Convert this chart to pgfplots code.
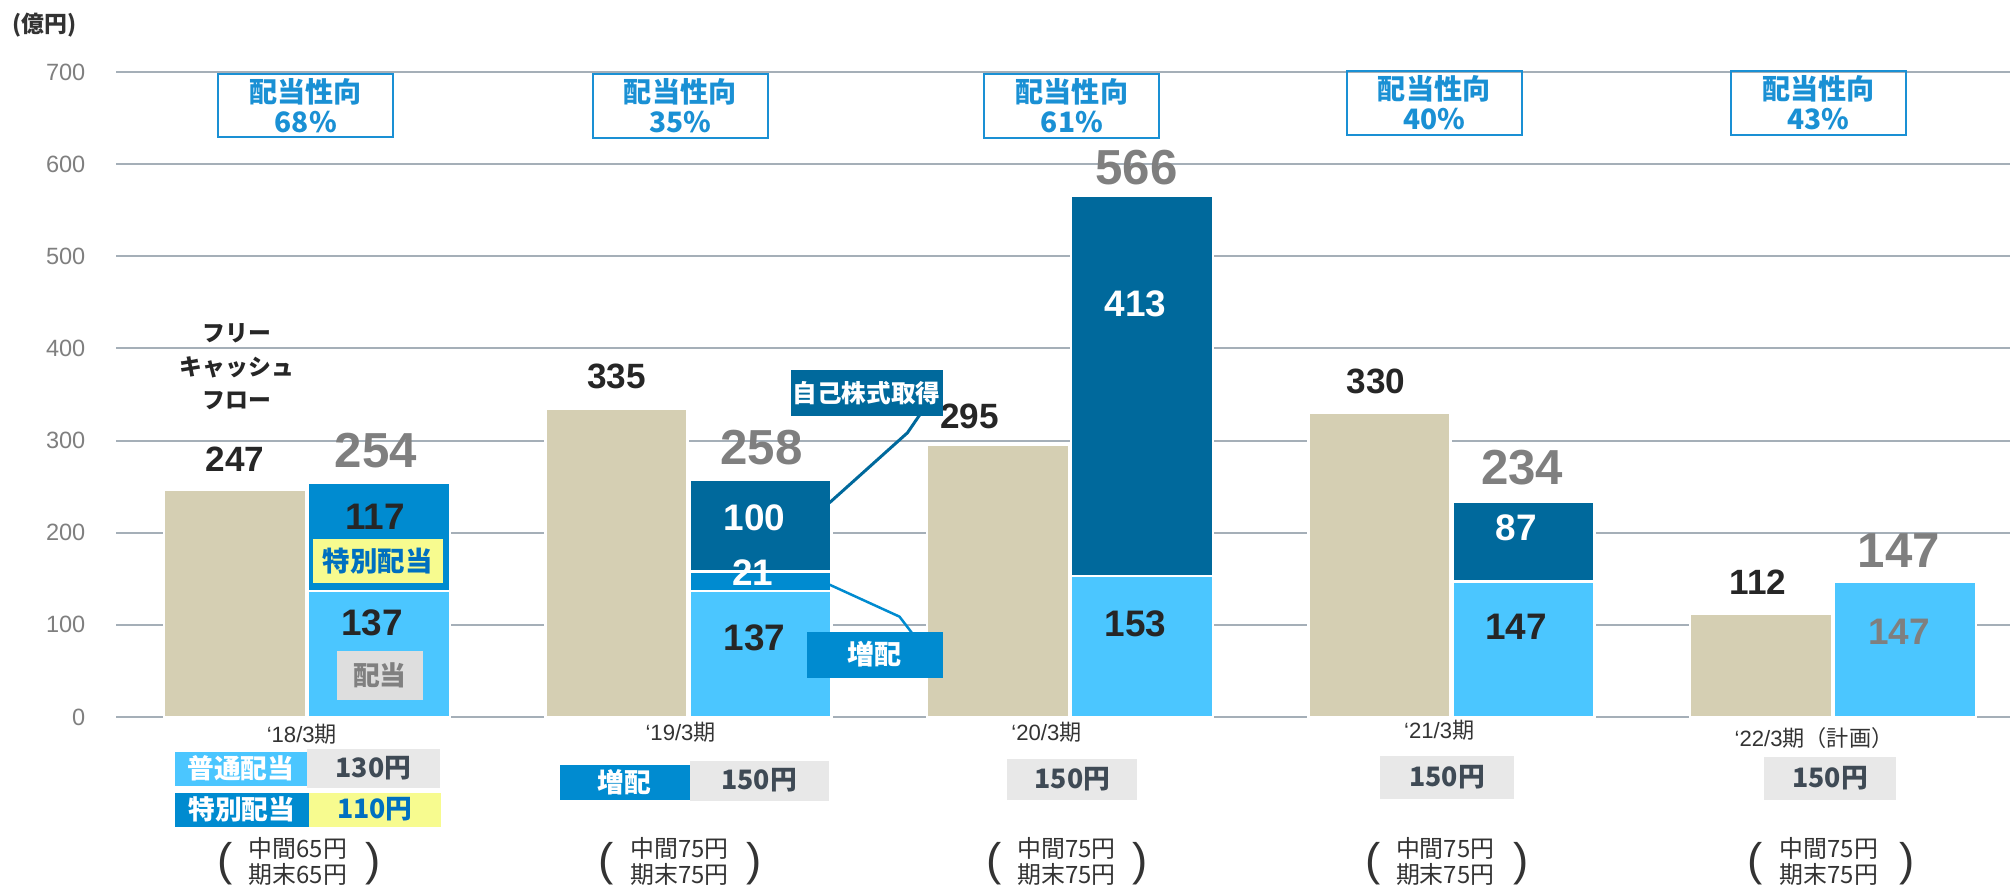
\documentclass[border=0pt]{standalone}
\usepackage{fontspec}
\setmainfont{Liberation Sans}
\newfontfamily\jp{Noto Sans CJK JP}
\usepackage{pgfplots}
\pgfplotsset{compat=1.18}
\definecolor{fcf}{HTML}{D5CFB3}
\definecolor{lblue}{HTML}{4BC6FF}
\definecolor{mblue}{HTML}{008BD0}
\definecolor{dblue}{HTML}{00699C}
\definecolor{gridc}{HTML}{A5AFB8}
\definecolor{pblue}{HTML}{1A90D4}
\definecolor{yel}{HTML}{F7FB8F}
\definecolor{gbox}{HTML}{E8E8E8}
\definecolor{gbox2}{HTML}{DEDEDE}
\definecolor{slate}{HTML}{3F4A55}
\definecolor{tblue}{HTML}{0070C0}
\definecolor{dark}{HTML}{262626}
\definecolor{tgray}{HTML}{7F7F7F}
\definecolor{txt}{HTML}{333333}
\newcommand\fs[1]{\fontsize{#1}{#1}\selectfont}
\begin{document}
\begin{tikzpicture}
\useasboundingbox (0,0) rectangle (20.1,8.86);
\begin{axis}[at={(1.16cm,1.69cm)}, anchor=south west, scale only axis,
  width=18.94cm, height=6.45cm, xmin=-0.5, xmax=4.4646, ymin=0, ymax=700,
  axis line style={draw=none}, ymajorgrids, grid style={draw=gridc, line width=0.02cm},
  xtick=\empty, ytick={0,100,...,700}, tick style={draw=none}, major tick length=0pt,
  yticklabel style={font=\fs{6.7}, text=tgray, inner sep=0pt, xshift=-0.3cm},
  /pgf/number format/assume math mode=true,
  ybar, bar width=1.42cm]
\addplot[bar shift=-0.72cm, fill=fcf, draw=white, line width=0.025cm]
  coordinates {(0,247) (1,335) (2,295) (3,330) (4,112)};
\end{axis}
\begin{axis}[at={(1.16cm,1.69cm)}, anchor=south west, scale only axis,
  width=18.94cm, height=6.45cm, xmin=-0.5, xmax=4.4646, ymin=0, ymax=700,
  hide axis, ybar stacked, bar width=1.42cm, bar shift=0.72cm]
\addplot[fill=lblue, draw=white, line width=0.025cm]
  coordinates {(0,137) (1,137) (2,153) (3,147) (4,147)};
\addplot[fill=mblue, draw=white, line width=0.025cm]
  coordinates {(0,117) (1,21) (2,0) (3,0) (4,0)};
\addplot[fill=dblue, draw=white, line width=0.025cm]
  coordinates {(0,0) (1,100) (2,413) (3,87) (4,0)};
\end{axis}
\begin{scope}[x=0.01cm, y=-0.01cm, yshift=8.86cm]
% unit label
\node[anchor=west, inner sep=0pt, text=txt, font=\jp\bfseries\fs{6.5}] at (12,25) {(億円)};
% payout boxes
\tikzset{pbox/.style={draw=pblue, line width=0.02cm, minimum width=1.75cm, minimum height=0.635cm, inner sep=0pt, align=center, text=pblue, font=\jp\bfseries\fontsize{8}{8.4}\selectfont}}
\node[pbox] at (306,105.5) {配当性向\\68\%};
\node[pbox] at (680.5,106) {配当性向\\35\%};
\node[pbox] at (1072.5,106) {配当性向\\61\%};
\node[pbox] at (1435,103) {配当性向\\40\%};
\node[pbox] at (1819.5,103) {配当性向\\43\%};
% FCF labels
\tikzset{fl/.style={inner sep=0pt, text=dark, font=\bfseries\fs{10}}}
\node[fl] at (235,459) {247};
\node[fl] at (617,377) {335};
\node[fl] at (970,417) {295};
\node[fl] at (1377,382) {330};
\node[fl] at (1759,583) {112};
% totals
\tikzset{tl/.style={inner sep=0pt, text=tgray, font=\bfseries\fs{14}}}
\node[tl] at (376,451) {254};
\node[tl] at (762,448) {258};
\node[tl] at (1137,168) {566};
\node[tl] at (1523,468) {234};
\node[tl] at (1900,551) {147};
% inside labels
\tikzset{il/.style={inner sep=0pt, font=\bfseries\fs{10.5}}}
\node[il, text=dark] at (375,517) {117};
\node[il, text=dark] at (372,623) {137};
\node[il, text=white] at (755,518) {100};
\node[il, text=white] at (753,573) {21};
\node[il, text=dark] at (755,638) {137};
\node[il, text=white] at (1136,304) {413};
\node[il, text=dark] at (1136,624) {153};
\node[il, text=white] at (1517,528) {87};
\node[il, text=dark] at (1517,627) {147};
\node[il, text=tgray] at (1900,632) {147};
% in-bar tags
\node[fill=yel, minimum width=1.30cm, minimum height=0.44cm, inner sep=0pt, text=tblue, font=\jp\bfseries\fs{7.8}] at (378,561) {特別配当};
\node[fill=gbox2, minimum width=0.86cm, minimum height=0.49cm, inner sep=0pt, text=gray, font=\jp\bfseries\fs{7.6}] at (380,675.5) {配当};
% FCF caption
\node[inner sep=0pt, align=center, text=dark, font=\jp\bfseries\fontsize{6.5}{9.6}\selectfont] at (237,367) {フリー\\キャッシュ\\フロー};
% callouts
\draw[dblue, line width=0.03cm] (921,414) -- (908,433) -- (830,503);
\node[fill=dblue, minimum width=1.52cm, minimum height=0.46cm, inner sep=0pt, text=white, font=\jp\bfseries\fs{7}] at (867,393) {自己株式取得};
\draw[mblue, line width=0.025cm] (830,585) -- (900,617) -- (913,634);
\node[fill=mblue, minimum width=1.36cm, minimum height=0.46cm, inner sep=0pt, text=white, font=\jp\bfseries\fs{7.7}] at (875,655) {増配};
% category labels
\tikzset{cl/.style={inner sep=0pt, text=txt, font=\fs{6.3}}}
\node[cl] at (302,735) {‘18/3{\jp 期}};
\node[cl] at (681,733) {‘19/3{\jp 期}};
\node[cl] at (1047,733) {‘20/3{\jp 期}};
\node[cl] at (1440,731) {‘21/3{\jp 期}};
\node[cl] at (1815,739) {‘22/3{\jp 期（計画）}};
% dividend per share boxes
\tikzset{db/.style={inner sep=0pt, font=\jp\bfseries\fs{7.6}}}
\node[db, fill=gbox, minimum width=1.33cm, minimum height=0.39cm, text=slate] at (373.5,768.5) {130円};
\node[db, fill=lblue, minimum width=1.32cm, minimum height=0.34cm, text=white] at (241,769) {普通配当};
\node[db, fill=yel, minimum width=1.32cm, minimum height=0.34cm, text=tblue] at (375,810) {110円};
\node[db, fill=mblue, minimum width=1.34cm, minimum height=0.34cm, text=white] at (242,810) {特別配当};
\node[db, fill=gbox, minimum width=1.39cm, minimum height=0.40cm, text=slate] at (759.5,781) {150円};
\node[db, fill=mblue, minimum width=1.30cm, minimum height=0.35cm, text=white] at (625,782.5) {増配};
\node[db, fill=gbox, minimum width=1.30cm, minimum height=0.41cm, text=slate] at (1073,779.5) {150円};
\node[db, fill=gbox, minimum width=1.34cm, minimum height=0.43cm, text=slate] at (1448,777.5) {150円};
\node[db, fill=gbox, minimum width=1.32cm, minimum height=0.43cm, text=slate] at (1831,778.5) {150円};
% interim / year-end
\tikzset{ie/.style={inner sep=0pt, align=center, text=txt, font=\jp\fontsize{6.8}{6.1}\selectfont},
         pr/.style={inner sep=0pt, text=txt, font=\fs{13}}}
\node[ie] at (298,862) {中間65円\\期末65円};
\node[pr] at (225,864) {(}; \node[pr] at (373,864) {)};
\node[ie] at (680,862) {中間75円\\期末75円};
\node[pr] at (606,864) {(}; \node[pr] at (755,864) {)};
\node[ie] at (1067,862) {中間75円\\期末75円};
\node[pr] at (995,864) {(}; \node[pr] at (1141,864) {)};
\node[ie] at (1446,862) {中間75円\\期末75円};
\node[pr] at (1374,864) {(}; \node[pr] at (1522,864) {)};
\node[ie] at (1830,862) {中間75円\\期末75円};
\node[pr] at (1756,864) {(}; \node[pr] at (1908,864) {)};
\end{scope}
\end{tikzpicture}
\end{document}
